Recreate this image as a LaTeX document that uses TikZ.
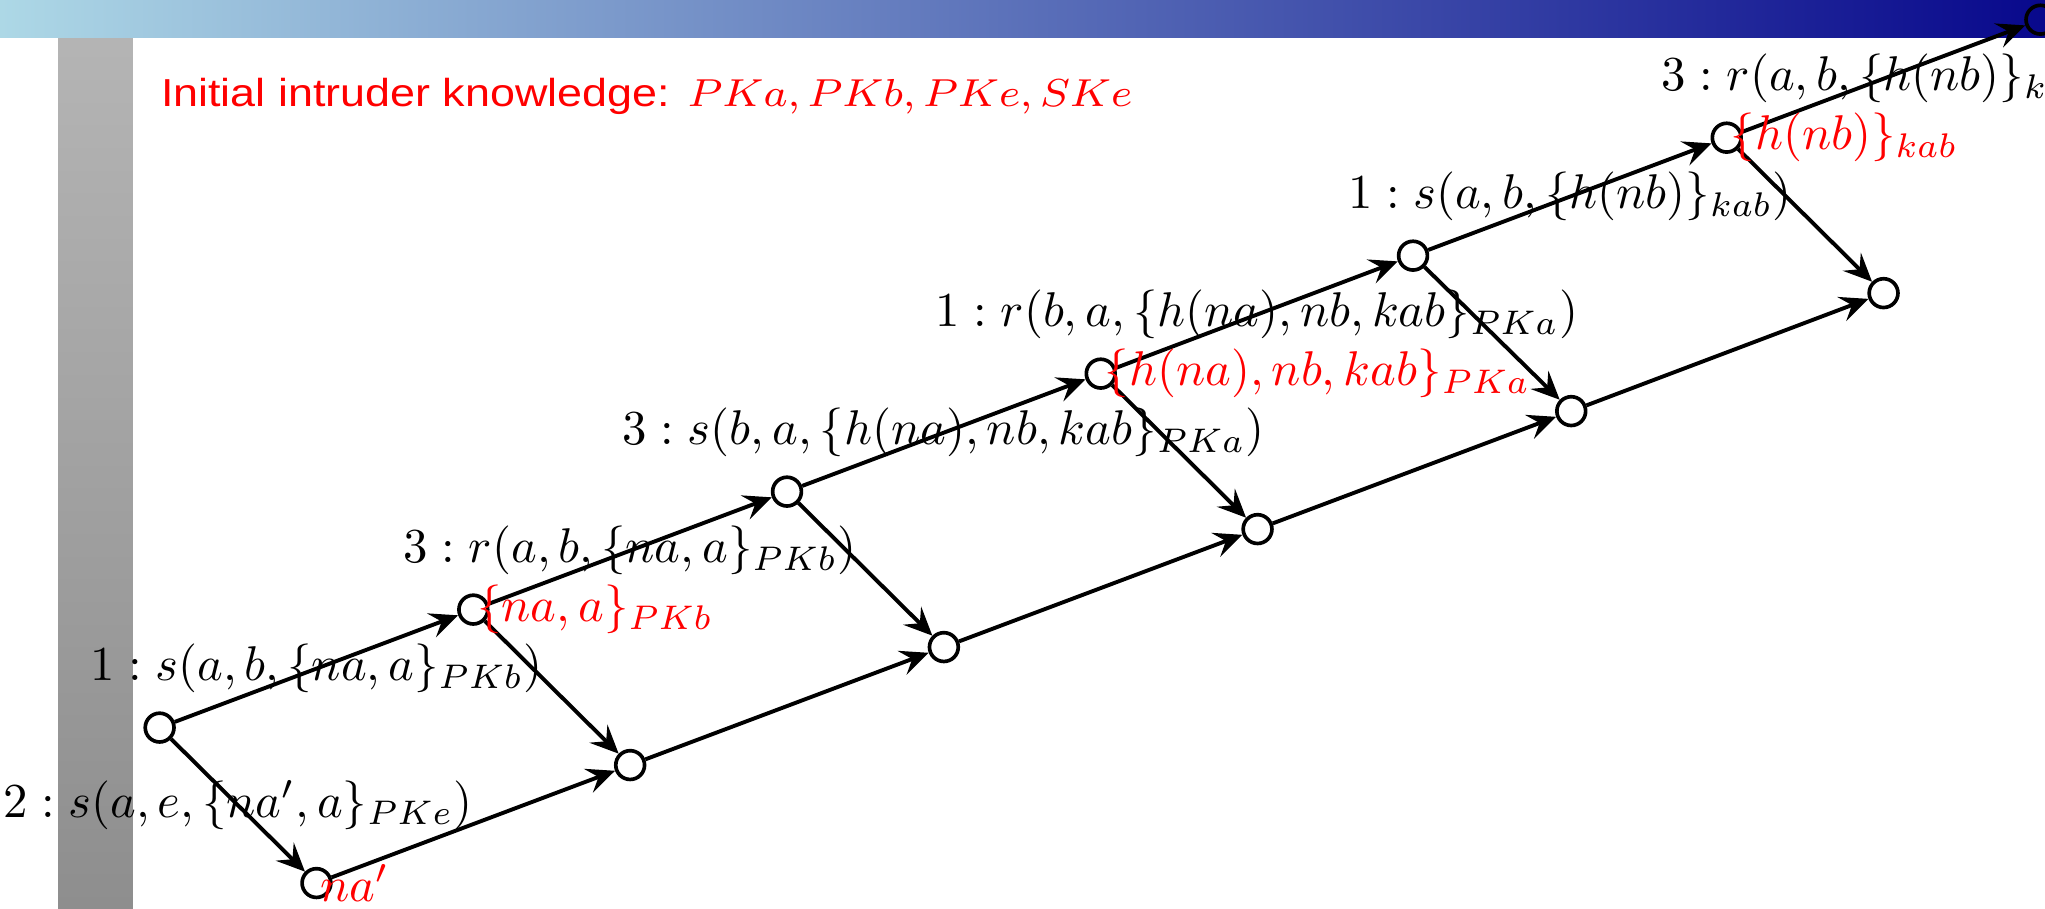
\documentclass[tikz,border=0pt]{standalone}
\usepackage{fontspec}
\usetikzlibrary{arrows.meta}
\newfontfamily\slidefont{Liberation Sans}
\definecolor{barlight}{RGB}{173,216,230}
\definecolor{bardark}{RGB}{8,8,140}
\definecolor{sidetop}{RGB}{182,182,182}
\definecolor{sidebot}{RGB}{142,142,142}

\begin{document}
\begin{tikzpicture}[x=1cm,y=1cm,line join=round,
  st/.style={circle,draw,line width=0.75pt,minimum size=5.9pt,inner sep=0pt},
  tr/.style={-{Stealth[length=5.8pt,width=5.2pt,inset=2.2pt]},line width=0.8pt},
  kn/.style={anchor=west,inner sep=0.6pt,text=red}]
  \useasboundingbox (0,0) rectangle (14.733,6.542);
  \shade[top color=sidetop,bottom color=sidebot] (0.418,0) rectangle (0.958,6.542);
  \shade[left color=barlight,right color=bardark] (0,6.272) rectangle (14.733,6.542);
  \node[anchor=base west,inner sep=0pt,text=red] (know) at (1.153,5.778)
    {\fontsize{8}{10}\selectfont\scalebox{1.15}[1]{\slidefont Initial intruder knowledge:}\hspace{0.45em}\scalebox{1.09}[1]{$PKa, PKb, PKe, SKe$}};

  \node[st] (u0) at (1.15,1.30) {};
  \node[st] (u1) at (3.41,2.15) {};
  \node[st] (u2) at (5.67,3.00) {};
  \node[st] (u3) at (7.93,3.85) {};
  \node[st] (u4) at (10.18,4.70) {};
  \node[st] (u5) at (12.44,5.55) {};
  \node[st] (u6) at (14.70,6.40) {};
  \node[st] (l0) at (2.28,0.18) {};
  \node[st] (l1) at (4.54,1.03) {};
  \node[st] (l2) at (6.80,1.88) {};
  \node[st] (l3) at (9.06,2.73) {};
  \node[st] (l4) at (11.32,3.58) {};
  \node[st] (l5) at (13.57,4.43) {};

  \draw[tr] (u0) -- node {$1 : s(a,b,\{na,a\}_{PKb})$} (u1);
  \draw[tr] (u1) -- node {$3 : r(a,b,\{na,a\}_{PKb})$} (u2);
  \draw[tr] (u2) -- node {$3 : s(b,a,\{h(na),nb,kab\}_{PKa})$} (u3);
  \draw[tr] (u3) -- node {$1 : r(b,a,\{h(na),nb,kab\}_{PKa})$} (u4);
  \draw[tr] (u4) -- node {$1 : s(a,b,\{h(nb)\}_{kab})$} (u5);
  \draw[tr] (u5) -- node {$3 : r(a,b,\{h(nb)\}_{kab})$} (u6);
  \draw[tr] (u0) -- node {$2 : s(a,e,\{na',a\}_{PKe})$} (l0);
  \draw[tr] (u1) -- (l1);
  \draw[tr] (u2) -- (l2);
  \draw[tr] (u3) -- (l3);
  \draw[tr] (u4) -- (l4);
  \draw[tr] (u5) -- (l5);
  \draw[tr] (l0) -- (l1);
  \draw[tr] (l1) -- (l2);
  \draw[tr] (l2) -- (l3);
  \draw[tr] (l3) -- (l4);
  \draw[tr] (l4) -- (l5);

  \node[kn] (k0) at (l0.center) {$na'$};
  \node[kn] (k1) at (u1.center) {$\{na,a\}_{PKb}$};
  \node[kn] (k3) at (u3.center) {$\{h(na),nb,kab\}_{PKa}$};
  \node[kn] (k5) at (u5.center) {$\{h(nb)\}_{kab}$};
\end{tikzpicture}
\end{document}
